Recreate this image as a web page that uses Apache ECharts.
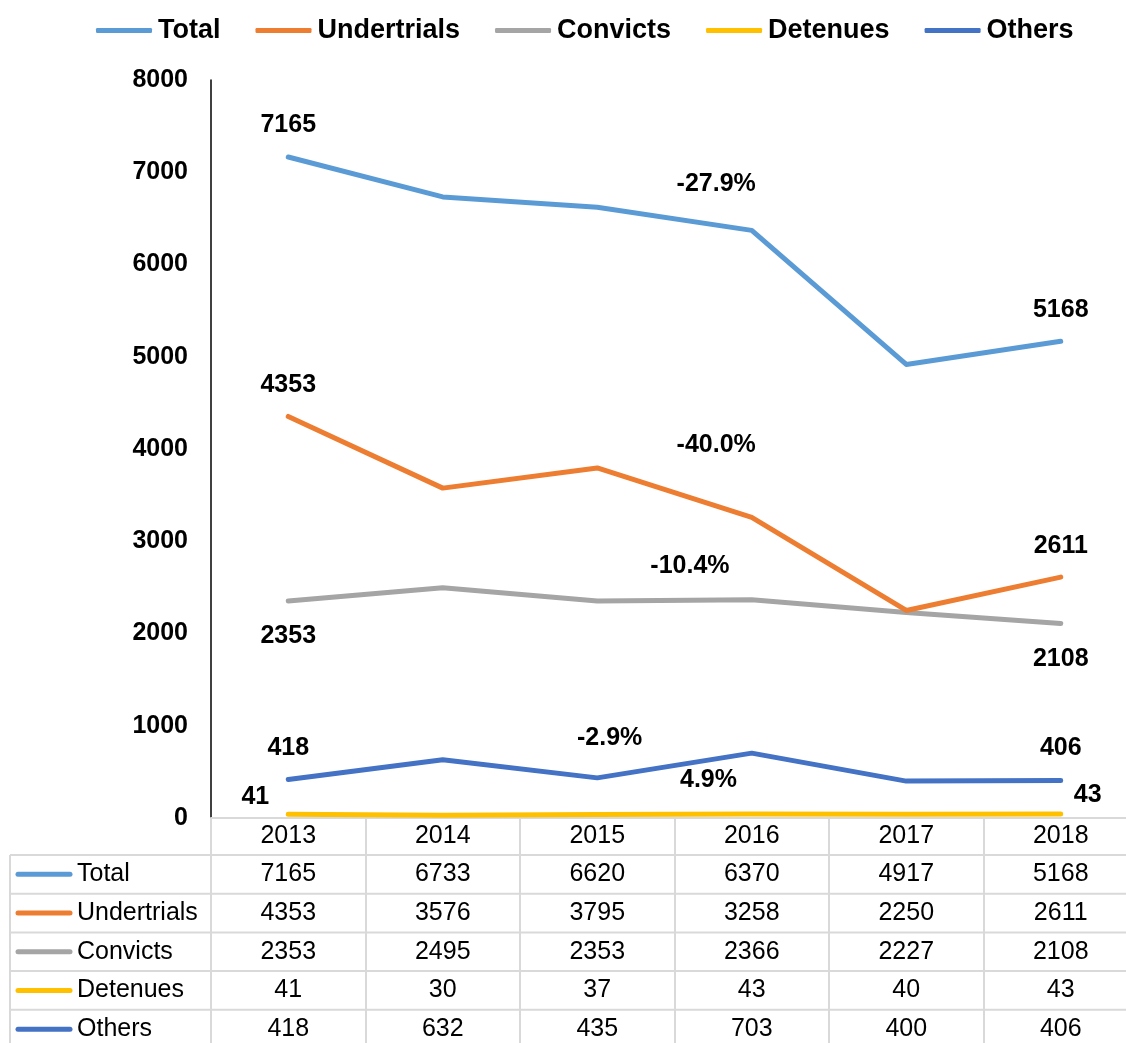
<!DOCTYPE html>
<html>
<head>
<meta charset="utf-8">
<style>
  html, body { margin: 0; padding: 0; background: #ffffff; overflow: hidden; width: 1126px; height: 1043px; }
  #chart { width: 1138px; height: 1043px; }
</style>
<script src="https://cdn.jsdelivr.net/npm/echarts@6/dist/echarts.min.js"></script>
</head>
<body>
<div id="chart"></div>
<script>
// Prison population by category, 2013-2018
const years = ['2013', '2014', '2015', '2016', '2017', '2018'];
const total       = [7165, 6733, 6620, 6370, 4917, 5168];
const undertrials = [4353, 3576, 3795, 3258, 2250, 2611];
const convicts    = [2353, 2495, 2353, 2366, 2227, 2108];
const detenues    = [41, 30, 37, 43, 40, 43];
const others      = [418, 632, 435, 703, 400, 406];
const seriesNames = ['Total', 'Undertrials', 'Convicts', 'Detenues', 'Others'];
const yTicks = [0, 1000, 2000, 3000, 4000, 5000, 6000, 7000, 8000];
// change 2013 -> 2018 per category
const changeNotes = ['-27.9%', '-40.0%', '-10.4%', '-2.9%', '4.9%'];

const seriesValues = [total, undertrials, convicts, detenues, others];
const colors = ['#5B9BD5', '#ED7D31', '#A5A5A5', '#FFC000', '#4472C4'];
const FONT = "'Liberation Sans', Arial, sans-serif";

// where the first and last values of each line are labelled
const endLabels = [
  { first: { position: 'top', distance: 18 }, last: { position: 'top', distance: 18 } },
  { first: { position: 'top', distance: 18 }, last: { position: 'top', distance: 18 } },
  { first: { position: 'bottom', distance: 22 }, last: { position: 'bottom', distance: 22 } },
  { first: { position: 'left', distance: 18, offset: [0, -17] }, last: { position: 'right', distance: 12, offset: [0, -19] } },
  { first: { position: 'top', distance: 18 }, last: { position: 'top', distance: 19 } }
];

function buildData(vals, spec) {
  return vals.map((v, i) => {
    const item = { value: v };
    const cfg = i === 0 ? spec.first : (i === vals.length - 1 ? spec.last : null);
    if (cfg) {
      item.label = Object.assign({
        show: true, fontSize: 25, fontWeight: 'bold', color: '#000', fontFamily: FONT
      }, cfg);
    }
    return item;
  });
}

const chart = echarts.init(document.getElementById('chart'), null, { renderer: 'canvas' });

chart.setOption({
  animation: false,
  backgroundColor: '#ffffff',
  textStyle: { fontFamily: FONT },
  legend: {
    left: 96,
    top: 17,
    padding: 0,
    icon: 'roundRect',
    itemWidth: 56,
    itemHeight: 5,
    itemGap: 35,
    textStyle: { fontSize: 27, fontWeight: 'bold', color: '#000', fontFamily: FONT, padding: [0, 0, 0, 1] },
    data: seriesNames
  },
  grid: { left: 211, right: 0, top: 80, bottom: 225, containLabel: false },
  xAxis: {
    type: 'category',
    data: years,
    boundaryGap: true,
    axisLine: { show: true, lineStyle: { color: '#d9d9d9', width: 2 } },
    axisTick: { show: true, length: 260, lineStyle: { color: '#d9d9d9', width: 2 } },
    axisLabel: { fontSize: 25, color: '#000', margin: 6, fontFamily: FONT }
  },
  yAxis: {
    type: 'value',
    min: yTicks[0],
    max: yTicks[yTicks.length - 1],
    interval: yTicks[1] - yTicks[0],
    axisLine: { show: true, lineStyle: { color: '#000', width: 1.5 } },
    axisTick: { show: false },
    splitLine: { show: false },
    axisLabel: {
      fontSize: 25, fontWeight: 'bold', color: '#000', margin: 23, fontFamily: FONT,
      formatter: v => String(v)
    }
  },
  series: seriesNames.map((name, k) => ({
    name: name,
    type: 'line',
    data: buildData(seriesValues[k], endLabels[k]),
    symbol: 'circle',
    symbolSize: 2,
    showSymbol: true,
    color: colors[k],
    itemStyle: { color: colors[k] },
    lineStyle: { width: 5, cap: 'round', join: 'round', color: colors[k] },
    label: { show: false },
    emphasis: { disabled: true },
    z: 10 - k
  }))
});

// Data table under the plot, aligned to the category axis
const axisY = chart.convertToPixel({ yAxisIndex: 0 }, 0);
const xc = years.map(y => chart.convertToPixel({ xAxisIndex: 0 }, y));
const headerH = 37;
const rowH = 38.7;
const tableLeft = 10;
const gridColor = '#d9d9d9';
const graphics = [];

for (let i = 0; i <= seriesNames.length; i++) {
  const yy = axisY + headerH + rowH * i;
  graphics.push({
    type: 'line', silent: true, z: 5,
    shape: { x1: tableLeft, y1: yy, x2: 1140, y2: yy },
    style: { stroke: gridColor, lineWidth: 2 }
  });
}
graphics.push({
  type: 'line', silent: true, z: 5,
  shape: { x1: tableLeft, y1: axisY + headerH, x2: tableLeft, y2: 1100 },
  style: { stroke: gridColor, lineWidth: 2 }
});

seriesNames.forEach((name, i) => {
  const cy = axisY + headerH + rowH * i + rowH / 2;
  graphics.push({
    type: 'line', silent: true, z: 6,
    shape: { x1: 18, y1: cy, x2: 70, y2: cy },
    style: { stroke: colors[i], lineWidth: 5, lineCap: 'round' }
  });
  graphics.push({
    type: 'text', silent: true, z: 6,
    x: 77, y: cy,
    style: { text: name, fontSize: 25, fontFamily: FONT, fill: '#000', textAlign: 'left', textVerticalAlign: 'middle' }
  });
  seriesValues[i].forEach((v, j) => {
    graphics.push({
      type: 'text', silent: true, z: 6,
      x: xc[j], y: cy,
      style: { text: String(v), fontSize: 25, fontFamily: FONT, fill: '#000', textAlign: 'center', textVerticalAlign: 'middle' }
    });
  });
});

// Percentage-change notes, placed between categories in data space
const noteAnchors = [
  [2.77, 6873], [2.77, 4043], [2.6, 2732], [2.08, 867], [2.72, 412]
];
function dataPoint(idx, val) {
  const i0 = Math.floor(idx);
  const f = idx - i0;
  const x = xc[i0] + f * (xc[i0 + 1] - xc[i0]);
  const y = chart.convertToPixel({ yAxisIndex: 0 }, val);
  return [x, y];
}
changeNotes.forEach((t, i) => {
  const p = dataPoint(noteAnchors[i][0], noteAnchors[i][1]);
  graphics.push({
    type: 'text', silent: true, z: 20,
    x: p[0], y: p[1],
    style: { text: t, fontSize: 25, fontWeight: 'bold', fontFamily: FONT, fill: '#000', textAlign: 'center', textVerticalAlign: 'middle' }
  });
});

chart.setOption({ graphic: graphics });
</script>
</body>
</html>
